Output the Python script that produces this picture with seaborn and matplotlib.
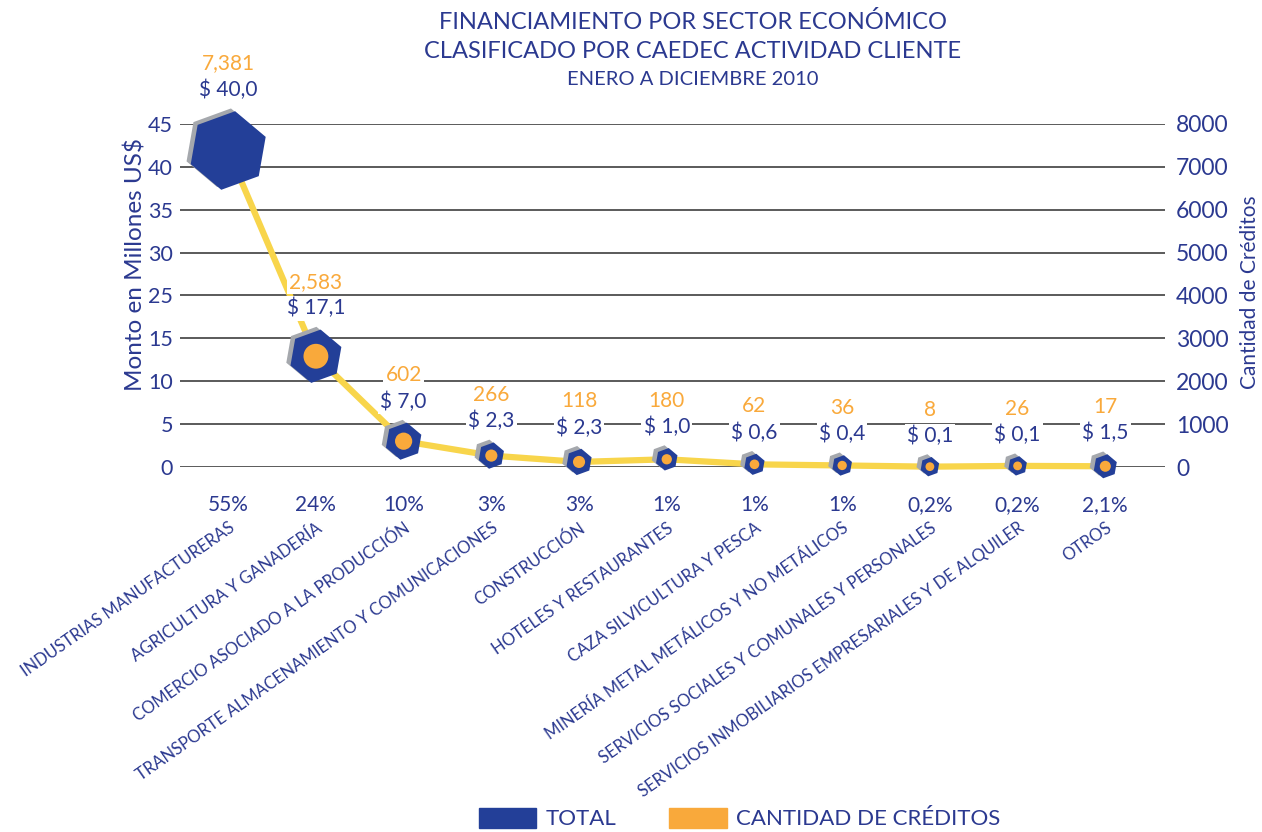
import numpy as np
import pandas as pd
import seaborn as sns
import matplotlib.pyplot as plt
from matplotlib.markers import MarkerStyle
from matplotlib.patches import Patch
from matplotlib.transforms import Affine2D, ScaledTranslation, blended_transform_factory


sectores = ["INDUSTRIAS MANUFACTURERAS", "AGRICULTURA Y GANADERÍA",
            "COMERCIO ASOCIADO A LA PRODUCCIÓN", "TRANSPORTE ALMACENAMIENTO Y COMUNICACIONES",
            "CONSTRUCCIÓN", "HOTELES Y RESTAURANTES", "CAZA SILVICULTURA Y PESCA",
            "MINERÍA METAL METÁLICOS Y NO METÁLICOS", "SERVICIOS SOCIALES Y COMUNALES Y PERSONALES",
            "SERVICIOS INMOBILIARIOS EMPRESARIALES Y DE ALQUILER", "OTROS"]
monto = [40.0, 17.1, 7.0, 2.3, 2.3, 1.0, 0.6, 0.4, 0.1, 0.1, 1.5]
creditos = [7381, 2583, 602, 266, 118, 180, 62, 36, 8, 26, 17]
porcentaje = ["55%", "24%", "10%", "3%", "3%", "1%", "1%", "1%", "0,2%", "0,2%", "2,1%"]
ticks_der = [0, 1000, 2000, 3000, 4000, 5000, 6000, 7000, 8000]
ticks_izq = ["0", "5", "10", "15", "25", "30", "35", "40", "45"]

navy = "#2B3990"
hex_azul = "#233F98"
naranja = "#F9A93B"
amarillo = "#F8D54B"
gris = "#A5A8AD"

sns.set_style("white")
plt.rcParams["font.family"] = ["Lato", "DejaVu Sans"]

df = pd.DataFrame({"pos": np.arange(len(sectores)), "monto": monto, "creditos": creditos})

fig = plt.figure(figsize=(12.62, 8.32), dpi=100)
ax = fig.add_axes([0.1426, 0.4387, 0.7805, 0.4123])

hex_sizes = (200, 3300)
circ_sizes = (40, 320)
hexa = MarkerStyle("h", transform=Affine2D().rotate_deg(-10))

sns.lineplot(data=df, x="pos", y="creditos", color=amarillo, lw=4.5, ax=ax, zorder=2)

# sombra gris
sns.scatterplot(data=df, x="pos", y="creditos", size="monto", sizes=hex_sizes, marker=hexa,
                color=gris, linewidth=0, legend=False, ax=ax, zorder=3)
sombra = ax.collections[-1]
sombra.set_offset_transform(ax.transData + ScaledTranslation(-3 / 72, 2 / 72, fig.dpi_scale_trans))

sns.scatterplot(data=df, x="pos", y="creditos", size="monto", sizes=hex_sizes, marker=hexa,
                color=hex_azul, linewidth=0, legend=False, ax=ax, zorder=4)
sns.scatterplot(data=df.iloc[1:], x="pos", y="creditos", size="monto", sizes=circ_sizes, marker="o",
                color=naranja, linewidth=0, legend=False, ax=ax, zorder=5)

for art in ax.lines + ax.collections:
    art.set_clip_on(False)

mmin, mmax = min(monto), max(monto)
for i, (m, c) in enumerate(zip(monto, creditos)):
    area = hex_sizes[0] + (m - mmin) / (mmax - mmin) * (hex_sizes[1] - hex_sizes[0])
    r = np.sqrt(area) / 2
    caja = dict(fc="white", ec="none", pad=1.5)
    ax.annotate(f"$ {m:.1f}".replace(".", ","), (i, c), xytext=(0, r + 15), textcoords="offset points",
                ha="center", va="center", fontsize=15, color=navy, bbox=caja, zorder=6,
                annotation_clip=False)
    ax.annotate(f"{c:,}", (i, c), xytext=(0, r + 34), textcoords="offset points",
                ha="center", va="center", fontsize=15, color=naranja, bbox=caja, zorder=6,
                annotation_clip=False)

trans = blended_transform_factory(ax.transData, ax.transAxes)
for i, p in enumerate(porcentaje):
    ax.text(i, -0.111, p, transform=trans, ha="center", va="center", fontsize=15, color=navy)

ax.set_xlim(-0.55, 10.68)
ax.set_ylim(0, 8000)
ax.set_yticks(ticks_der)
ax.set_yticklabels(ticks_izq)
ax.set_xticks(df["pos"])
ax.set_xticklabels(sectores, rotation=35, ha="right", va="top", rotation_mode="anchor")
ax.tick_params(axis="x", length=0, pad=38, labelsize=12, labelcolor=navy)
ax.tick_params(axis="y", length=0, pad=5, labelsize=15.5, labelcolor=navy)
ax.yaxis.grid(True, color="#4D4D4D", lw=1.3)
ax.xaxis.grid(False)
ax.set_axisbelow(True)
ax.set_xlabel("")
ax.set_ylabel("Monto en Millones US$", fontsize=17.5, color=navy)
ax.yaxis.set_label_coords(-0.034, 0.59)
sns.despine(ax=ax, left=True, bottom=True)

ax2 = ax.twinx()
ax2.set_ylim(0, 8000)
ax2.set_yticks(ticks_der)
ax2.set_yticklabels([str(t) for t in ticks_der])
ax2.tick_params(axis="y", length=0, pad=8, labelsize=16.5, labelcolor=navy)
ax2.set_ylabel("Cantidad de Créditos", fontsize=15, color=navy)
ax2.yaxis.set_label_coords(1.076, 0.51)
sns.despine(ax=ax2, left=True, bottom=True, right=True)

fig.text(0.549, 0.9736, "FINANCIAMIENTO POR SECTOR ECONÓMICO", ha="center", va="center",
         fontsize=17, color=navy)
fig.text(0.549, 0.9375, "CLASIFICADO POR CAEDEC ACTIVIDAD CLIENTE", ha="center", va="center",
         fontsize=17, color=navy)
fig.text(0.549, 0.904, "ENERO A DICIEMBRE 2010", ha="center", va="center", fontsize=14.5, color=navy)

handles = [Patch(color=hex_azul, label="TOTAL"), Patch(color=naranja, label="CANTIDAD DE CRÉDITOS")]
fig.legend(handles=handles, loc="center", bbox_to_anchor=(0.586, 0.016), ncol=2, frameon=False,
           fontsize=16, handlelength=2.6, handleheight=1.0, handletextpad=0.4, columnspacing=2.4,
           labelcolor=navy, borderaxespad=0)

fig.savefig("out.png", dpi=100)
